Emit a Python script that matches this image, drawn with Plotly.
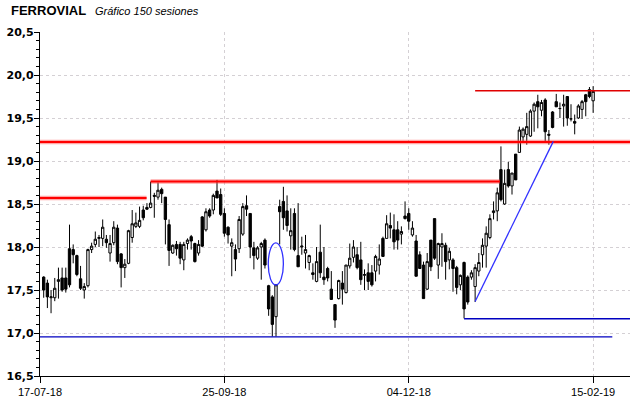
import plotly.graph_objects as go

# ---- data ----
opens = [17.65,17.58,17.41,17.41,17.60,17.64,17.64,17.98,17.97,17.90,
         17.63,17.50,17.55,17.97,18.03,18.10,18.10,18.09,17.93,18.05,
         18.22,17.92,17.76,17.81,18.11,18.24,18.24,18.43,18.46,18.46,
         18.60,18.58,18.67,18.58,18.26,17.93,18.03,18.03,17.85,18.04,
         18.12,18.04,17.93,18.35,18.20,18.43,18.43,18.65,18.61,18.39,
         18.23,18.01,17.97,17.98,18.15,18.48,18.39,17.99,17.87,18.00,
         18.08,17.55,17.42,17.19,18.47,18.53,18.42,18.13,18.39,17.90,
         18.00,17.93,17.82,17.70,17.60,17.94,17.65,17.75,17.51,17.33,
         17.40,17.58,17.47,17.78,17.88,17.91,17.85,17.67,17.70,17.70,
         17.72,17.79,18.10,18.10,18.25,18.20,18.20,18.15,18.36,18.39,
         18.14,18.07,17.91,17.79,17.51,18.08,18.33,17.79,18.00,18.02,
         17.85,17.85,17.76,17.56,17.82,17.65,17.65,17.54,17.72,17.91,
         18.01,18.11,18.40,18.42,18.90,18.50,18.90,18.71,19.08,19.10,
         19.28,19.31,19.29,19.58,19.69,19.59,19.71,19.31,19.57,19.69,
         19.61,19.64,19.75,19.49,19.46,19.50,19.60,19.77,19.83,19.70]
highs = [17.66,17.62,17.50,17.64,17.76,17.76,17.76,18.26,18.03,17.91,
         17.78,17.58,17.98,18.05,18.18,18.14,18.32,18.14,18.14,18.30,
         18.26,17.93,17.86,18.20,18.43,18.40,18.47,18.48,18.51,18.76,
         18.63,18.75,18.69,18.58,18.32,18.03,18.07,18.06,18.06,18.10,
         18.14,18.05,18.08,18.36,18.45,18.45,18.62,18.78,18.68,18.45,
         18.24,18.10,18.03,18.36,18.51,18.60,18.39,18.06,18.01,18.06,
         18.10,17.56,17.44,17.57,18.55,18.70,18.60,18.45,18.45,18.51,
         18.12,18.14,17.91,17.81,18.00,18.26,18.00,17.77,17.72,17.33,
         17.62,17.72,17.79,18.04,18.08,18.00,18.06,17.74,17.81,17.79,
         17.91,18.03,18.12,18.37,18.40,18.38,18.30,18.24,18.53,18.45,
         18.30,18.14,17.95,17.83,17.93,18.08,18.33,18.05,18.16,18.05,
         17.99,17.87,17.78,17.68,17.83,17.67,17.73,17.80,17.93,18.10,
         18.24,18.38,18.53,18.69,19.17,18.90,18.99,18.86,19.08,19.40,
         19.39,19.56,19.60,19.68,19.77,19.71,19.73,19.36,19.58,19.78,
         19.68,19.77,19.75,19.66,19.54,19.66,19.71,19.78,19.86,19.87]
lows = [17.41,17.29,17.23,17.37,17.40,17.48,17.47,17.53,17.81,17.66,
        17.50,17.40,17.53,17.93,18.00,18.00,18.01,17.99,17.83,18.02,
        17.80,17.53,17.64,17.80,18.05,18.22,18.22,18.31,18.43,18.45,
        18.34,18.55,18.51,18.03,17.78,17.92,17.90,17.80,17.73,17.97,
        17.97,17.82,17.90,18.00,18.18,18.34,18.38,18.57,18.36,18.12,
        18.04,17.66,17.72,17.93,18.13,18.36,17.87,17.74,17.85,17.62,
        17.75,17.20,16.96,16.96,18.03,18.20,18.18,17.97,17.95,17.77,
        17.91,17.75,17.73,17.62,17.59,17.64,17.56,17.60,17.39,17.06,
        17.39,17.33,17.46,17.75,17.82,17.74,17.56,17.50,17.50,17.54,
        17.60,17.68,17.89,18.10,18.10,17.97,17.97,18.03,18.32,18.20,
        18.12,17.66,17.75,17.40,17.50,17.72,17.85,17.63,17.77,17.62,
        17.74,17.48,17.45,17.50,17.17,17.33,17.62,17.36,17.66,17.76,
        17.76,18.09,18.32,18.30,18.53,18.49,18.69,18.61,18.78,19.10,
        19.21,19.19,19.28,19.34,19.38,19.52,19.21,19.19,19.38,19.63,
        19.50,19.40,19.41,19.46,19.31,19.49,19.49,19.52,19.73,19.56]
closes = [17.50,17.42,17.42,17.52,17.62,17.50,17.51,17.56,17.91,17.68,
          17.52,17.54,17.97,18.01,18.09,18.11,18.23,18.05,18.04,18.23,
          17.83,17.76,17.80,18.19,18.27,18.28,18.31,18.34,18.44,18.51,
          18.59,18.66,18.62,18.32,17.96,18.02,17.98,17.87,18.03,18.08,
          18.07,17.83,18.03,18.01,18.41,18.36,18.60,18.57,18.38,18.16,
          18.14,18.05,17.86,18.32,18.47,18.44,18.00,17.90,17.99,18.04,
          17.79,17.28,17.10,17.56,18.41,18.34,18.25,18.19,17.97,17.77,
          18.01,17.97,17.90,17.68,17.83,17.70,17.62,17.64,17.39,17.15,
          17.61,17.51,17.79,17.87,18.00,17.76,17.62,17.68,17.60,17.56,
          17.89,17.86,17.89,18.27,18.22,18.06,18.08,18.18,18.33,18.30,
          18.22,17.66,17.75,17.40,17.83,17.77,17.87,18.04,18.04,17.83,
          17.95,17.75,17.53,17.67,17.28,17.36,17.70,17.76,17.82,18.02,
          18.16,18.33,18.42,18.63,18.55,18.74,18.71,18.86,18.78,19.36,
          19.37,19.40,19.58,19.66,19.63,19.68,19.34,19.30,19.39,19.63,
          19.61,19.66,19.50,19.49,19.44,19.64,19.69,19.69,19.75,19.81]
sessions = list(range(1, len(closes) + 1))

tick_sessions = [0, 50, 100, 150]
tick_dates = ["17-07-18", "25-09-18", "04-12-18", "15-02-19"]

# support / resistance levels: (start session, end session, price)
red_levels = [(0, 28.9, 18.57), (30.0, 124.7, 18.763), (0, 160, 19.222)]
red_top_level = (118, 160, 19.817)
blue_levels = [(0, 155.2, 16.955), (115, 160, 17.166)]
trend_line = ((118, 17.367), (139.2, 19.228))
gap_ellipse = ((61.9, 17.558), (66.0, 18.047))

fig = go.Figure()
fig.add_trace(go.Candlestick(
    x=sessions, open=opens, high=highs, low=lows, close=closes,
    increasing=dict(line=dict(color="black", width=1), fillcolor="white"),
    decreasing=dict(line=dict(color="black", width=1), fillcolor="black"),
    whiskerwidth=0, showlegend=False, hoverinfo="skip"))

shapes = []
for x0, x1, y in red_levels:
    shapes.append(dict(type="line", x0=x0, x1=x1, y0=y, y1=y, xref="x", yref="y",
                       line=dict(color="rgba(255,60,60,0.45)", width=4.5), layer="above"))
    shapes.append(dict(type="line", x0=x0, x1=x1, y0=y, y1=y, xref="x", yref="y",
                       line=dict(color="#ff0000", width=2), layer="above"))
x0, x1, y = red_top_level
shapes.append(dict(type="line", x0=x0, x1=x1, y0=y, y1=y, xref="x", yref="y",
                   line=dict(color="#e00000", width=1.3), layer="above"))
for x0, x1, y in blue_levels:
    shapes.append(dict(type="line", x0=x0, x1=x1, y0=y, y1=y, xref="x", yref="y",
                       line=dict(color="#0000c0", width=1.4), layer="above"))
(tx0, ty0), (tx1, ty1) = trend_line
shapes.append(dict(type="line", x0=tx0, x1=tx1, y0=ty0, y1=ty1, xref="x", yref="y",
                   line=dict(color="#3030ff", width=1.3), layer="above"))
(ex0, ey0), (ex1, ey1) = gap_ellipse
shapes.append(dict(type="circle", x0=ex0, x1=ex1, y0=ey0, y1=ey1, xref="x", yref="y",
                   line=dict(color="#3030ff", width=1.3), layer="above"))

fig.update_layout(
    width=640, height=398, autosize=False,
    margin=dict(l=40, r=10, t=32, b=22, autoexpand=False),
    paper_bgcolor="white", plot_bgcolor="white",
    separators=",.",
    boxgap=0.1,
    shapes=shapes,
    showlegend=False,
    annotations=[
        dict(text="<b>FERROVIAL</b>", xref="paper", yref="paper", x=-0.053, y=1.062,
             xanchor="left", yanchor="middle", showarrow=False,
             font=dict(family="Liberation Sans", size=13, color="black")),
        dict(text="<i>Gráfico 150 sesiones</i>", xref="paper", yref="paper", x=0.089, y=1.062,
             xanchor="left", yanchor="middle", showarrow=False,
             font=dict(family="Liberation Sans", size=11, color="black")),
    ],
    xaxis=dict(
        range=[0, 160], rangeslider=dict(visible=False), automargin=False,
        tickmode="array", tickvals=tick_sessions, ticktext=tick_dates,
        ticks="outside", ticklen=6, tickcolor="black",
        showline=True, linecolor="black", linewidth=1.2,
        showgrid=True, gridcolor="#d4d0d4", griddash="dot", gridwidth=1,
        zeroline=False,
        tickfont=dict(family="Liberation Sans", size=11, color="black"),
    ),
    yaxis=dict(
        range=[16.5, 20.5], tickmode="linear", tick0=16.5, dtick=0.5, automargin=False,
        tickformat=".1f",
        ticks="outside", ticklen=5, tickcolor="black",
        ticklabelstandoff=-2,
        minor=dict(dtick=0.1, ticks="outside", ticklen=3, tickcolor="black", showgrid=False),
        showline=True, linecolor="black", linewidth=1.2,
        showgrid=True, gridcolor="#d4d0d4", griddash="dot", gridwidth=1,
        zeroline=False,
        tickfont=dict(family="DejaVu Sans", size=11, color="black", weight="bold"),
    ),
)

fig.write_html("out.html", config={"displayModeBar": False},
               post_script="document.body.style.margin='0';document.body.style.overflow='hidden';")
